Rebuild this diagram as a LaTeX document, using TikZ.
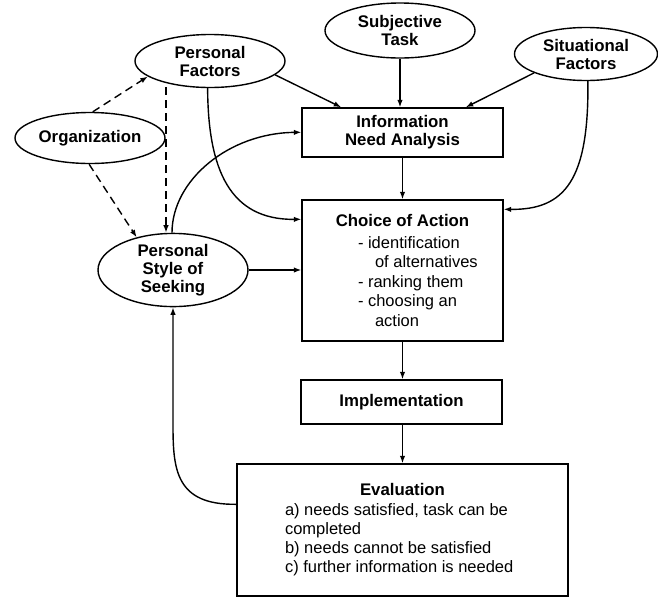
\documentclass[tikz,border=0pt]{standalone}
\usepackage{fontspec}
\setmainfont{Liberation Sans}
\usetikzlibrary{shapes.geometric,arrows.meta,calc}
\begin{document}
\begin{tikzpicture}[x=1pt,y=-1pt,
  line width=1.4pt,
  every node/.style={font=\fontsize{16.5}{18.5}\selectfont},
  oval/.style={draw,ellipse,inner sep=0pt,align=center,
    font=\fontsize{16.8}{18}\selectfont\bfseries},
  box/.style={draw,rectangle,inner sep=0pt,align=center,minimum width=201pt},
  arr/.style={-{Latex[length=7.5pt,width=5.5pt]}},
  dsh/.style={arr,dash pattern=on 8pt off 5pt}]

\useasboundingbox (0,0) rectangle (658,614);

% influencing factors
\node[oval,minimum width=150pt,minimum height=53pt] (pf) at (210,61) {Personal\\Factors};
\node[oval,minimum width=150pt,minimum height=55pt] (st) at (400,30.5) {Subjective\\Task};
\node[oval,minimum width=143pt,minimum height=53pt] (sf) at (586,54) {Situational\\Factors};
\node[oval,minimum width=150pt,minimum height=51pt] (org) at (90,138) {Organization};
\node[oval,minimum width=150pt,minimum height=64pt] (ps) at (173,270) {Personal\\Style of\\Seeking};

% process steps
\node[box,minimum height=49pt,font=\fontsize{16.8}{18}\selectfont\bfseries] (info) at (402.5,132.5)
  {Information\\Need Analysis};
\node[box,minimum height=141pt,font=\fontsize{16.5}{19.5}\selectfont] (choice) at (402.5,270.5)
  {{\fontsize{16.8}{19.5}\selectfont\bfseries Choice of Action}\\[2pt]
   \makebox[89pt][l]{- identification}\\
   \makebox[89pt][l]{\hspace{17pt}of alternatives}\\
   \makebox[89pt][l]{- ranking them}\\
   \makebox[89pt][l]{- choosing an}\\
   \makebox[89pt][l]{\hspace{17pt}action}};
\node[box,minimum height=44pt,font=\fontsize{16.8}{18}\selectfont\bfseries] (impl) at (401.5,402)
  {Implementation};
\node[box,minimum width=331pt,minimum height=132pt,font=\fontsize{16.5}{19}\selectfont] (eval) at (402.5,530)
  {{\fontsize{16.8}{19}\selectfont\bfseries Evaluation}\\[1pt]
   \makebox[235pt][l]{a) needs satisfied, task can be}\\
   \makebox[235pt][l]{completed}\\
   \makebox[235pt][l]{b) needs cannot be satisfied}\\
   \makebox[235pt][l]{c) further information is needed}};

% main flow
\draw[arr] (st.south) -- (info.north -| st.south);
\draw[arr] (pf.-12) -- ($(info.north west)+(40,0)$);
\draw[arr] (sf.200) -- ($(info.north east)+(-38,0)$);
\draw[arr] (info.south) -- (choice.north);
\draw[arr] (choice.south) -- (impl.north -| choice.south);
\draw[arr] (impl.south -| choice.south) -- (eval.north -| choice.south);

% curved influences
\draw[arr] (sf.-86) .. controls (589,180) and (565,210) .. ($(choice.north east)+(0,10)$);
\draw[arr] (pf.-95) .. controls (208,170) and (230,220) .. ($(choice.north west)+(0,20)$);
\draw[arr] ($(ps.north)+(-1,0)$) .. controls (172,180) and (229,133) .. ($(info.north west)+(0,25)$);
\draw[arr] (ps.east) -- (ps.east -| choice.west);

% feedback loop
\coordinate (up) at ($(ps.south)+(0,118)$);
\draw[arr] ($(eval.north west)+(0,41)$) .. controls (176,505) and (173,470) .. (up) -- (ps.south);

% organisational influences
\draw[dsh] (org.84) -- (pf.194);
\draw[dsh] (org.-92) -- (ps.138);
\draw[dsh] ($(pf.south)+(-44,-1)$) -- ($(ps.north)+(-7,0)$);

\end{tikzpicture}
\end{document}
